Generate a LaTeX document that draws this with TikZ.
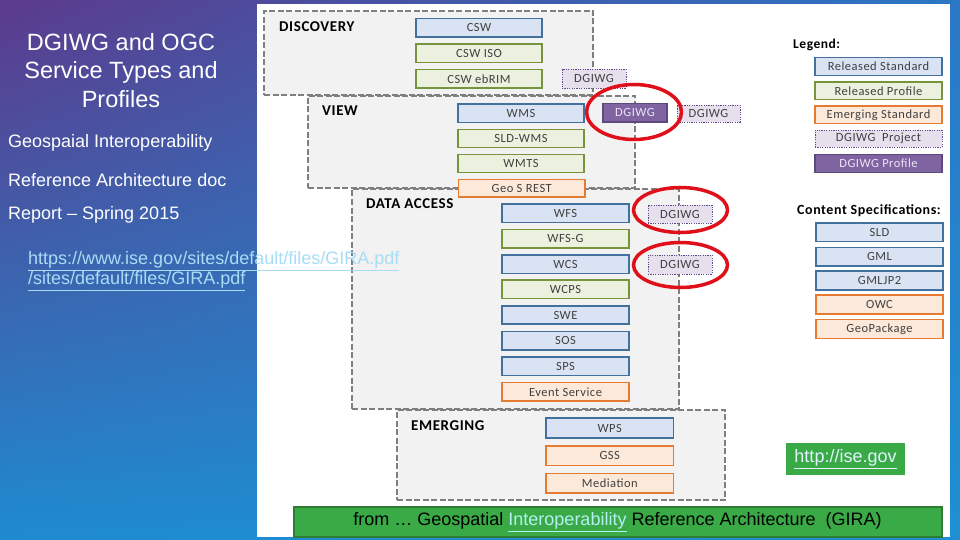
\documentclass[tikz,border=0pt]{standalone}
\usepackage{fontspec}
\setmainfont{Liberation Sans}
\newfontfamily\calfont{Carlito}[LetterSpace=4]
\usetikzlibrary{shapes.geometric,shadings}
\definecolor{stdF}{HTML}{DAE3F3}
\definecolor{stdB}{HTML}{41719C}
\definecolor{prfF}{HTML}{EBF1DE}
\definecolor{prfB}{HTML}{77933C}
\definecolor{emgF}{HTML}{FDE9D9}
\definecolor{emgB}{HTML}{E47B30}
\definecolor{prjF}{HTML}{E6E0EC}
\definecolor{prjB}{HTML}{5F4B8B}
\definecolor{dgpF}{HTML}{8064A2}
\definecolor{dgpB}{HTML}{5C4A7D}
\definecolor{grpF}{HTML}{F2F2F2}
\definecolor{grpB}{HTML}{7F7F7F}
\definecolor{txt}{HTML}{404040}
\definecolor{circ}{HTML}{E0101A}
\definecolor{linkc}{HTML}{A8DDF5}
\definecolor{barF}{HTML}{3AAA47}
\definecolor{barB}{HTML}{2E7D32}
\definecolor{bgUL}{HTML}{5C3A8C}
\definecolor{bgUR}{HTML}{2A78C6}
\definecolor{bgLL}{HTML}{1E8BD0}
\definecolor{bgLR}{HTML}{1E90D2}
\newcommand\bx[7]{\node[#2, minimum width={(#5)-(#3)}, minimum height={(#6)-(#4)}] (#1) at ({((#3)+(#5))/2},{((#4)+(#6))/2}) {#7};}
\tikzset{
  base/.style={inner sep=0pt, font=\calfont\fontsize{12.5}{13}\selectfont, text=txt, line width=1.5pt},
  stdbox/.style={base, draw=stdB, fill=stdF},
  prfbox/.style={base, draw=prfB, fill=prfF},
  emgbox/.style={base, draw=emgB, fill=emgF},
  prjbox/.style={base, draw=prjB, fill=prjF, line width=0.9pt, dash pattern=on 1.2pt off 1.2pt},
  dgpbox/.style={base, draw=dgpB, fill=dgpF, text={rgb,255:red,235;green,228;blue,245}},
  grpbox/.style={inner sep=0pt, draw=grpB, fill=grpF, line width=1.8pt, dash pattern=on 6pt off 2.5pt},
  grplabel/.style={anchor=west, inner sep=0pt, font=\calfont\bfseries\fontsize{15}{16}\selectfont, text=black},
  leglabel/.style={anchor=west, inner sep=0pt, font=\calfont\bfseries\fontsize{13.5}{14}\selectfont, text=black},
  ring/.style={draw=circ, ellipse, line width=3.5pt, inner sep=0pt},
  lefttext/.style={anchor=west, inner sep=0pt, text=white, font=\fontsize{18}{20}\selectfont},
}
\begin{document}
\begin{tikzpicture}[x=1pt,y=-1pt]
\useasboundingbox (0,0) rectangle (960,540);
% background
\shade[upper left=bgUL, upper right=bgUR, lower left=bgLL, lower right=bgLR] (0,0) rectangle (960,540);
\fill[white] (257,4) rectangle (950,537);
% left texts
\node[align=center, text=white, inner sep=0pt, font=\fontsize{23.5}{28.5}\selectfont] (title) at (121,70.5) {DGIWG and OGC\\Service Types and\\Profiles};
\node[lefttext] (sub1) at (8,143) {Geospaial Interoperability};
\node[lefttext] (sub2) at (8,180) {Reference Architecture doc};
\node[lefttext] (sub3) at (8,215) {Report -- Spring 2015};
% group boxes
\bx{disc}{grpbox}{264}{11}{593}{95}{}
\bx{view}{grpbox}{308}{96}{635}{188}{}
\bx{data}{grpbox}{352}{189}{679}{409}{}
\bx{emrg}{grpbox}{397}{410}{725}{500}{}
\node[grplabel] (ldisc) at (279,27) {DISCOVERY};
\node[grplabel] (lview) at (322,111) {VIEW};
\node[grplabel] (ldata) at (366,204) {DATA ACCESS};
\node[grplabel] (lemrg) at (411,426) {EMERGING};
% link text over the panel
\node[anchor=west, align=left, inner sep=0pt, text=linkc, font=\fontsize{18}{20}\selectfont] (url) at (28,271) {\underline{https://www.ise.gov/sites/default/files/GIRA.pdf}\\\underline{/sites/default/files/GIRA.pdf}};
% discovery
\bx{csw}{stdbox}{416}{18.5}{542}{37}{CSW}
\bx{cswiso}{prfbox}{416}{44}{542}{62.5}{CSW ISO}
\bx{cswebrim}{prfbox}{416}{69.5}{542}{88}{CSW ebRIM}
\bx{dg1}{prjbox}{562}{69.5}{626}{88}{DGIWG}
% view
\bx{wms}{stdbox}{458}{104}{584}{122.5}{WMS}
\bx{sldwms}{prfbox}{458}{129.5}{584}{147.5}{SLD-WMS}
\bx{wmts}{prfbox}{458}{154.5}{584}{172.5}{WMTS}
\bx{geosrest}{emgbox}{458.5}{179.5}{585}{197}{Geo S REST}
\bx{dg2}{dgpbox}{603}{103.5}{667}{122}{DGIWG}
\bx{dg3}{prjbox}{677}{105}{740}{122}{DGIWG}
% data access
\bx{wfs}{stdbox}{502}{204}{629}{222.5}{WFS}
\bx{wfsg}{prfbox}{502}{229.5}{629}{248}{WFS-G}
\bx{wcs}{stdbox}{502}{255}{629}{273.5}{WCS}
\bx{wcps}{prfbox}{502}{280}{629}{298.5}{WCPS}
\bx{swe}{stdbox}{502}{306}{629}{324}{SWE}
\bx{sos}{stdbox}{502}{331.5}{629}{350}{SOS}
\bx{sps}{stdbox}{502}{357}{629}{375.5}{SPS}
\bx{evt}{emgbox}{502}{382.5}{629}{401}{Event Service}
\bx{dg4}{prjbox}{648}{205}{712}{223}{DGIWG}
\bx{dg5}{prjbox}{648}{255}{712}{274}{DGIWG}
% emerging
\bx{wps}{stdbox}{546}{418}{673.5}{438}{WPS}
\bx{gss}{emgbox}{546}{446}{673.5}{465.5}{GSS}
\bx{med}{emgbox}{546}{473.5}{673.5}{493}{Mediation}
% legend
\node[leglabel] (lleg) at (793,45) {Legend:};
\bx{lg1}{stdbox}{815}{57.5}{942}{75.5}{Released Standard}
\bx{lg2}{prfbox}{815}{82}{942}{99.5}{Released Profile}
\bx{lg3}{emgbox}{815}{106}{942}{123.5}{Emerging Standard}
\bx{lg4}{prjbox}{815}{130}{942}{147.5}{DGIWG\ \ Project}
\bx{lg5}{dgpbox}{815}{154.5}{942}{172.5}{DGIWG Profile}
\node[leglabel, font=\calfont\bfseries\fontsize{14}{15}\selectfont] (lcont) at (797,211) {Content Specifications:};
\bx{sld}{stdbox}{816}{223}{943}{241.5}{SLD}
\bx{gml}{stdbox}{816}{247.5}{943}{266}{GML}
\bx{gmljp2}{stdbox}{816}{271}{943}{290}{GMLJP2}
\bx{owc}{emgbox}{816}{295}{943}{314}{OWC}
\bx{gpkg}{emgbox}{816}{319.5}{943}{338.5}{GeoPackage}
% red rings
\node[ring, minimum width=95, minimum height=55] (r1) at (634,112) {};
\node[ring, minimum width=94, minimum height=45] (r2) at (680.5,210) {};
\node[ring, minimum width=94, minimum height=45] (r3) at (680.5,265) {};
% green boxes
\node[fill=barF, inner sep=0pt, minimum width=119, minimum height=32, text={rgb,255:red,225;green,245;blue,255}, font=\fontsize{18}{20}\selectfont] (http) at (845.5,459) {\underline{http://ise.gov}};
\node[fill=barF, draw=barB, line width=2pt, inner sep=0pt, minimum width=648, minimum height=30, text=black, font=\fontsize{18}{20}\selectfont] (bar) at (617.5,522) {from … Geospatial \textcolor[HTML]{B4F0F0}{\underline{Interoperability}} Reference Architecture\ \ (GIRA)};
\end{tikzpicture}
\end{document}
